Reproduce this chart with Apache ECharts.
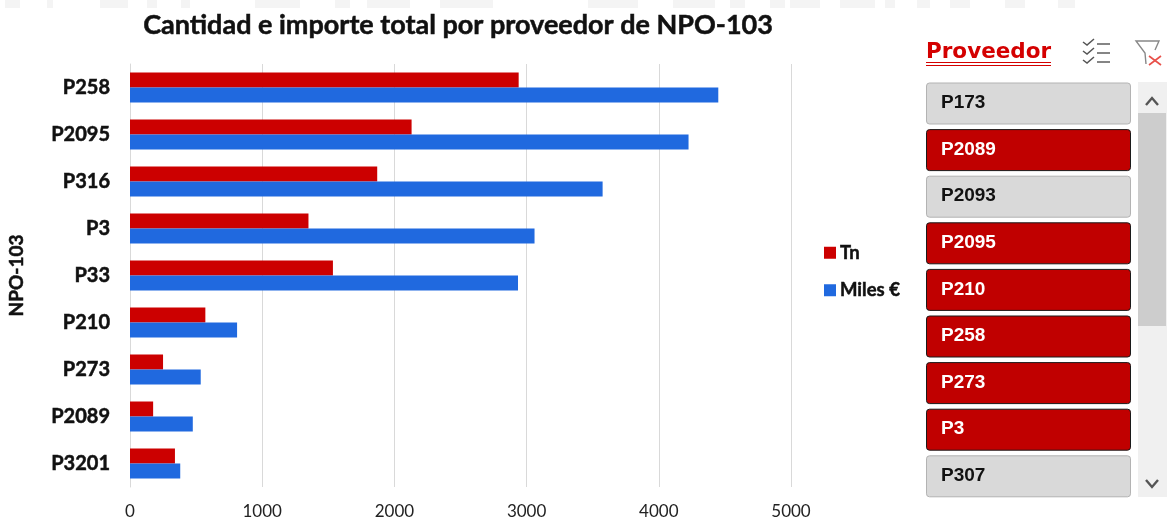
<!DOCTYPE html>
<html><head><meta charset="utf-8">
<style>html,body{margin:0;padding:0;background:#fff}#c{width:1169px;height:523px}</style>
<script src="https://cdn.jsdelivr.net/npm/echarts@6/dist/echarts.min.js"></script>
</head><body><div id="c"></div>
<script>
const categories = ['P258','P2095','P316','P3','P33','P210','P273','P2089','P3201'];
const tn = [2940,2130,1870,1350,1535,570,250,175,340];
const miles = [4450,4225,3575,3060,2935,810,535,475,380];
const xTicks = {min:0,max:5000,interval:1000};
const slicerItems = ['P173','P2089','P2093','P2095','P210','P258','P273','P3','P307'];
const slicerSelected = ['P2089','P2095','P210','P258','P273','P3'];

const RED='#C00000', BLUE='#2069DF', BAR_RED='#CC0000';
const font='Lato,"Open Sans",sans-serif';
const g=[];
// Faint background band at the top edge
[[5,15],[47,6],[100,28],[147,10],[181,9],[255,45],[335,15],[367,43],[440,53],[588,50],[673,42],[730,15],[770,15],[790,30],[840,35],[885,10],[917,13],[950,20],[1005,20],[1058,17]].forEach(([x,w])=>{
  g.push({type:'rect',z:-1,shape:{x:x,y:0,width:w,height:8},style:{fill:'#F4F4F4'}});
});
// Slicer header
g.push({type:'text',left:926,top:41,style:{text:'Proveedor',fill:'#D40000',font:'bold 21.5px "DejaVu Sans",sans-serif'}});
g.push({type:'rect',shape:{x:926,y:62,width:125,height:1},style:{fill:'#D40000'}});
g.push({type:'rect',shape:{x:926,y:65,width:125,height:1},style:{fill:'#D40000'}});
// Multi-select icon
[[44],[53],[62]].forEach(([y])=>{
  g.push({type:'polyline',shape:{points:[[1083,y-2],[1087,y+1],[1094,y-5]]},style:{stroke:'#555',fill:null,lineWidth:1.5}});
  g.push({type:'line',shape:{x1:1097,y1:y,x2:1110,y2:y},style:{stroke:'#666',lineWidth:1.6}});
});
// Clear filter icon
g.push({type:'polyline',shape:{points:[[1146,64],[1145,53],[1136,41],[1159,41],[1155,50]]},style:{stroke:'#888',fill:null,lineWidth:1.4}});
g.push({type:'line',shape:{x1:1149,y1:56,x2:1161,y2:65},style:{stroke:'#E8504A',lineWidth:1.6}});
g.push({type:'line',shape:{x1:1161,y1:56,x2:1149,y2:65},style:{stroke:'#E8504A',lineWidth:1.6}});
// Slicer buttons
slicerItems.forEach((name,i)=>{
  const on=slicerSelected.includes(name), y=83+i*46.6;
  g.push({type:'rect',shape:{x:926.5,y:y,width:204,height:41,r:3},
    style:{fill:on?RED:'#D9D9D9',stroke:on?'#1a1a1a':'#B3B3B3',lineWidth:1}});
  g.push({type:'text',left:941,top:y+10.5,style:{text:name,fill:on?'#fff':'#111',font:'bold 19px "Liberation Sans",Arial,sans-serif'}});
});
// Scrollbar
g.push({type:'rect',shape:{x:1138,y:82,width:29,height:415},style:{fill:'#F0F0F0'}});
g.push({type:'rect',shape:{x:1138,y:113,width:28,height:213},style:{fill:'#CDCDCD'}});
g.push({type:'polyline',shape:{points:[[1146,105],[1152,98],[1158,105]]},style:{stroke:'#555',fill:null,lineWidth:2.4}});
g.push({type:'polyline',shape:{points:[[1146,480],[1152,487],[1158,480]]},style:{stroke:'#555',fill:null,lineWidth:2.4}});

const heavy={textBorderColor:'#111',textBorderWidth:0.5};
const chart=echarts.init(document.getElementById('c'),null,{renderer:'canvas'});
chart.setOption({
  animation:false,
  backgroundColor:'#fff',
  title:{text:'Cantidad e importe total por proveedor de NPO-103',left:453,top:7,textAlign:'center',
    textStyle:{fontFamily:font,fontWeight:'bold',fontSize:27,color:'#111',...heavy}},
  legend:{orient:'vertical',left:819,top:238,itemWidth:12,itemHeight:12,itemGap:18,
    icon:'rect',data:['Tn','Miles €'],
    textStyle:{fontFamily:font,fontWeight:'bold',fontSize:18.5,color:'#111',padding:[0,0,0,-1],...heavy}},
  grid:{left:130,top:64,width:661,height:423,containLabel:false,outerBoundsMode:'none'},
  xAxis:{type:'value',min:xTicks.min,max:xTicks.max,interval:xTicks.interval,
    axisLine:{show:false},axisTick:{show:false},
    splitLine:{show:true,lineStyle:{color:'#D9D9D9',width:1}},
    axisLabel:{margin:16,fontFamily:font,fontSize:17,color:'#222',formatter:v=>String(v)}},
  yAxis:{type:'category',inverse:true,data:categories,
    name:'NPO-103',nameLocation:'middle',nameGap:104,
    nameTextStyle:{fontFamily:font,fontWeight:'bold',fontSize:19,color:'#111',...heavy},
    axisLine:{show:true,lineStyle:{color:'#D9D9D9'}},axisTick:{show:false},
    axisLabel:{margin:20,fontFamily:font,fontWeight:'bold',fontSize:20,color:'#111',...heavy}},
  series:[
    {name:'Tn',type:'bar',data:tn,barWidth:15,barGap:'0%',itemStyle:{color:BAR_RED}},
    {name:'Miles €',type:'bar',data:miles,barWidth:15,barGap:'0%',itemStyle:{color:BLUE}}
  ],
  graphic:g
});
</script></body></html>
